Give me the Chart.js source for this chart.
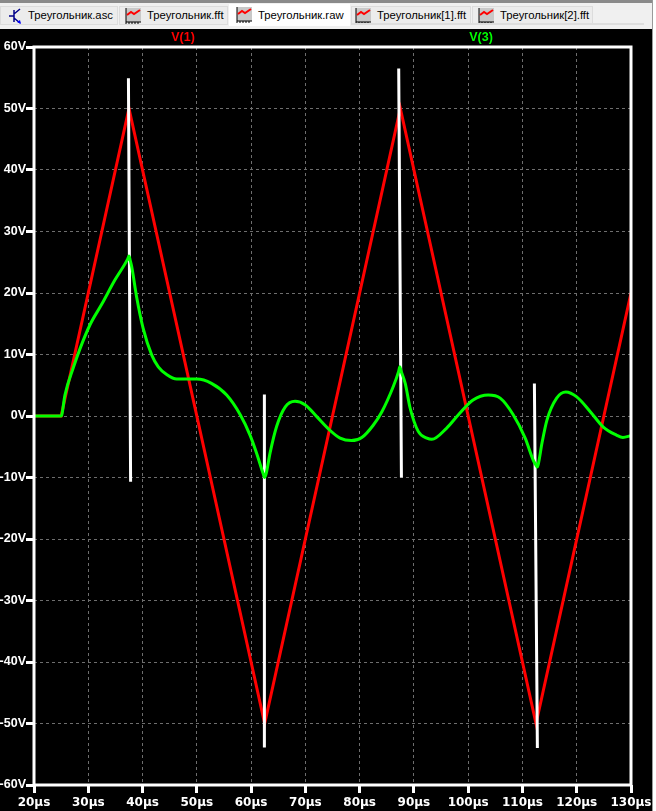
<!DOCTYPE html>
<html>
<head>
<meta charset="utf-8">
<script src="https://cdn.jsdelivr.net/npm/chart.js@4/dist/chart.umd.min.js"></script>
<style>
  html, body { margin: 0; padding: 0; background: #fff; overflow: hidden; }
  #top { position: absolute; left: 0; top: 0; width: 652px; height: 29px; background: #f0f0f0; border-top: 3px solid #8a8a8a; box-sizing: border-box; }
  .tab { position: absolute; top: 3px; height: 19px; background: #ececec; border: 1px solid #dcdcdc; box-sizing: border-box; font: 11.3px "Liberation Sans", sans-serif; color: #000; line-height: 17px; white-space: nowrap; }
  .tab.on { top: 1px; height: 22px; background: #fff; border-color: #fff; line-height: 20px; }
  .tab svg { position: absolute; top: 0; }
  .tab.on svg { top: 1px; }
  .tab span { position: absolute; }
  #rule { position: absolute; left: 352px; top: 23px; width: 292px; height: 2px; background: #dedede; }
  #side { position: absolute; left: 652px; top: 0; width: 4px; height: 811px; background: #fff; border-left: 1px solid #9a9a9a; box-sizing: border-box; }
  #wrap { position: absolute; left: 0; top: 29px; width: 652px; height: 782px; background: #000; }
  canvas { position: absolute; left: 0; top: 0; }
</style>
</head>
<body>
<div id="top"></div>
<div id="rule"></div>
<div id="side"></div>
<div id="wrap"><canvas id="plot" width="656" height="782"></canvas></div>
<script>
const tabNames = ['Треугольник.asc', 'Треугольник.fft', 'Треугольник.raw', 'Треугольник[1].fft', 'Треугольник[2].fft']
const tabLeft = [0, 119, 229, 351, 472]
const tabWidth = [118, 109, 121, 120, 121]
const tabTextLeft = [27, 27, 28, 25, 27]
const tabIconLeft = [6, 5, 6, 3, 5]

const v1Time = [20, 25, 37.5, 62.5, 87.5, 112.5, 130]
const v1Values = [0, 0, 50, -50, 50, -50, 20]

const v3Time = [20, 25, 25.1, 25.7, 27.3, 28.5, 30.3, 32.5, 34.9, 37.3, 37.5, 37.7, 38, 38.9, 40.1, 41.7, 42.9, 44.5, 46.3, 50, 52.7, 55.5, 58, 59.8, 61, 62.2, 62.5, 62.8, 63.5, 64.7, 66.3, 68.1, 70, 72.1, 74.5, 76.4, 78.5, 80.4, 82.5, 84.1, 86.2, 87.2, 87.4, 87.6, 88.4, 89.3, 90.8, 92.4, 93.3, 96, 98.2, 100.9, 103.7, 105.9, 108.3, 110.5, 112, 112.5, 112.7, 112.9, 113.6, 114.5, 116.3, 118, 120, 122.5, 124.9, 127.3, 128.5, 130]
const v3Values = [0, 0, 0.1, 3.4, 8, 11, 14.8, 18.2, 22.1, 25.6, 26, 25.4, 24.3, 19.4, 14.3, 9.9, 8, 6.7, 6, 6, 5.3, 3.4, 0.2, -3.1, -6, -9.3, -10, -9.3, -6, -1.7, 1.5, 2.4, 1.8, -0.1, -2.3, -3.6, -4, -3.5, -1.5, 0.7, 4.8, 7.3, 8, 7.4, 5.3, 1.3, -2.5, -3.6, -3.8, -2, 0.2, 2.6, 3.4, 2.9, 0.2, -3.6, -7.2, -8, -8.3, -7.9, -4.4, -0.7, 2.9, 3.9, 3.1, 0.7, -1.8, -3.1, -3.5, -3.2]

// the four white spikes, null breaks the line between them
const spikeTime = [37.4, 37.8, 37.8, 62.45, 62.45, 62.45, 87.2, 87.7, 87.7, 112.2, 112.75]
const spikeValues = [54.9, -10.7, null, 3.5, -53.9, null, 56.5, -10, null, 5.3, -54]

const seriesNames = ['V(1)', 'V(3)']
const seriesColors = ['#ff0000', '#00ff00']
const seriesLabelX = [183, 481]

const pairs = (xs, ys) => xs.map((x, i) => ({ x, y: ys[i] }))

// tab bar
const topBar = document.getElementById('top')
tabNames.forEach((name, i) => {
  const el = document.createElement('div')
  el.className = i === 2 ? 'tab on' : 'tab'
  el.style.left = tabLeft[i] + 'px'
  el.style.width = tabWidth[i] + 'px'
  const icon = i === 0
    ? '<svg style="left:' + tabIconLeft[i] + 'px" width="16" height="18" viewBox="0 0 16 18"><path d="M2 9h5M7 3v12M7 7l6-5M7 11l6 5" stroke="#00008b" stroke-width="1.5" fill="none"/><path d="M10 15l4 2-1-4z" fill="#0000ff"/></svg>'
    : '<svg style="left:' + tabIconLeft[i] + 'px" width="17" height="17" viewBox="0 0 17 17"><rect x="1" y="1" width="15" height="14" fill="#c8c8c8"/><path d="M1 1v14h15M1 15v2M4 15v2M7 15v2M10 15v2M13 15v2" stroke="#000" fill="none"/><path d="M2 8l4-3 3 2 6-4" stroke="#f00" stroke-width="2" fill="none"/></svg>'
  el.innerHTML = icon + '<span style="left:' + tabTextLeft[i] + 'px">' + name + '</span>'
  topBar.appendChild(el)
})

// white frame round the plot, and the names over it
const framePlugin = {
  id: 'frame',
  afterDatasetsDraw (chart) {
    const { ctx, chartArea: a } = chart
    ctx.save()
    ctx.strokeStyle = '#fff'
    ctx.lineWidth = 3
    ctx.strokeRect(a.left, a.top, a.right - a.left, a.bottom - a.top)
    ctx.font = 'bold 12.5px "Liberation Sans"'
    ctx.textAlign = 'center'
    ctx.textBaseline = 'middle'
    seriesNames.forEach((name, i) => {
      ctx.fillStyle = seriesColors[i]
      ctx.fillText(name, seriesLabelX[i], 9)
    })
    ctx.restore()
  }
}

const gridLines = {
  color: '#6e6e6e',
  lineWidth: 1,
  tickColor: '#fff',
  tickWidth: 3,
  tickLength: 8
}

new Chart(document.getElementById('plot'), {
  type: 'line',
  data: {
    datasets: [
      { label: seriesNames[0], data: pairs(v1Time, v1Values), borderColor: seriesColors[0], borderWidth: 3, order: 3 },
      { label: 'cursor', data: pairs(spikeTime, spikeValues), borderColor: '#fff', borderWidth: 3, order: 2 },
      { label: seriesNames[1], data: pairs(v3Time, v3Values), borderColor: seriesColors[1], borderWidth: 3, order: 1, cubicInterpolationMode: 'monotone' }
    ]
  },
  options: {
    responsive: false,
    animation: false,
    parsing: false,
    spanGaps: false,
    elements: { point: { radius: 0 }, line: { tension: 0, borderCapStyle: 'butt' } },
    layout: { padding: { left: 0, right: 25, top: 18, bottom: 0 } },
    plugins: { legend: { display: false }, tooltip: { enabled: false } },
    scales: {
      x: {
        type: 'linear',
        min: 20,
        max: 130,
        afterFit (scale) { scale.height = 26 },
        grid: gridLines,
        border: { display: false, dash: [3, 3] },
        ticks: {
          stepSize: 10,
          color: '#fff',
          font: { family: '"DejaVu Sans"', size: 12, weight: 'bold' },
          padding: 3,
          maxRotation: 0,
          autoSkip: false,
          callback: v => v + 'µs'
        }
      },
      y: {
        type: 'linear',
        min: -60,
        max: 60,
        afterFit (scale) { scale.width = 34 },
        grid: gridLines,
        border: { display: false, dash: [3, 3] },
        ticks: {
          stepSize: 10,
          color: '#fff',
          font: { family: '"Liberation Sans"', size: 12.5, weight: 'bold' },
          padding: 0,
          autoSkip: false,
          callback: v => v + 'V'
        }
      }
    }
  },
  plugins: [framePlugin]
})
</script>
</body>
</html>
